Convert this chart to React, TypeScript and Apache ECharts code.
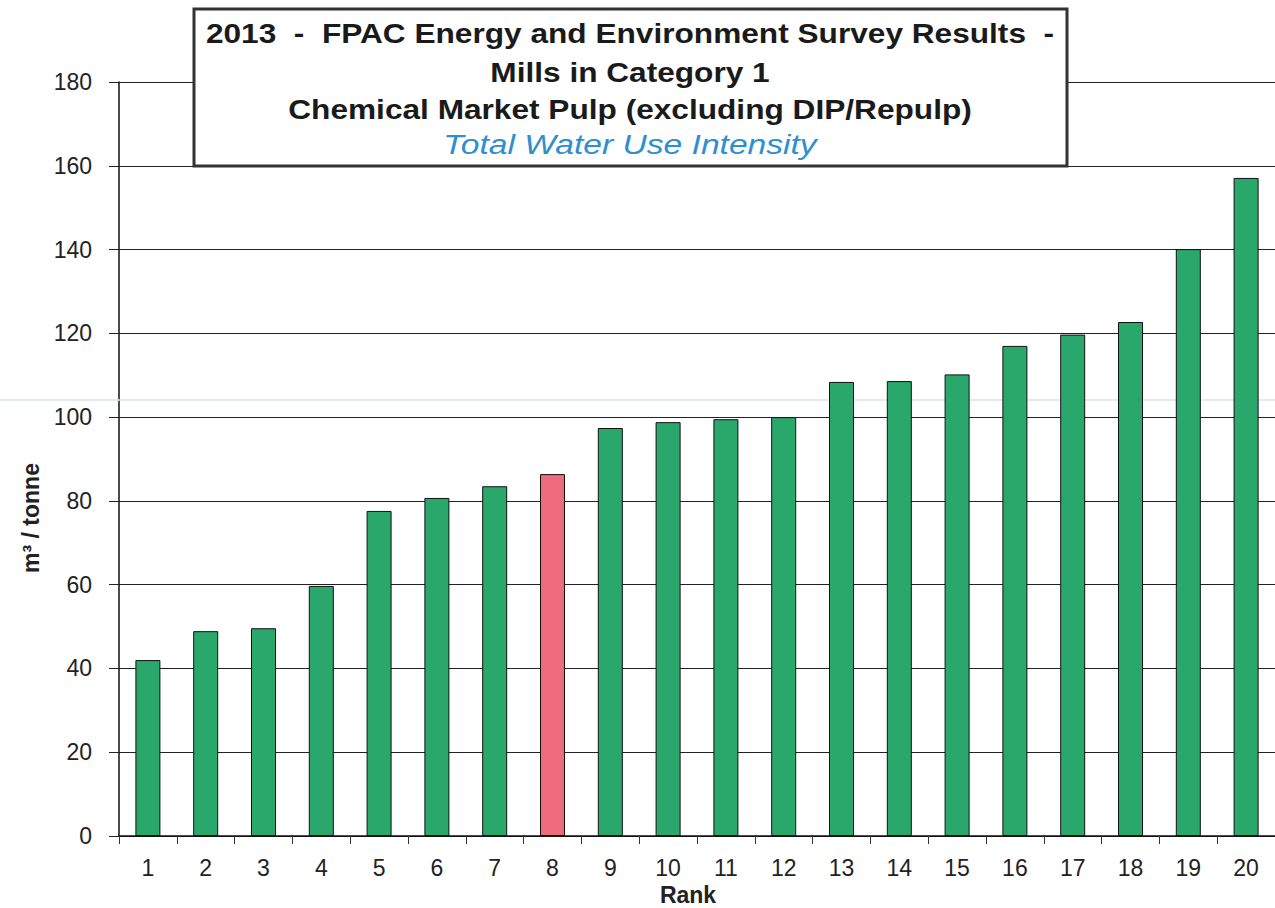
import React, { useEffect, useRef } from "react";
import * as echarts from "echarts";

const ranks = ["1","2","3","4","5","6","7","8","9","10","11","12","13","14","15","16","17","18","19","20"];
const waterUse = [42.0, 48.9, 49.6, 59.7, 77.6, 80.7, 83.5, 86.4, 97.4, 98.8, 99.5, 100.0, 108.4, 108.6, 110.2, 117.0, 119.7, 122.7, 140.1, 157.1];
const highlightRank = "8";
const yTicks = { min: 0, max: 180, interval: 20 };
const titleLines = [
  "2013  -  FPAC Energy and Environment Survey Results  -",
  "Mills in Category 1",
  "Chemical Market Pulp (excluding DIP/Repulp)",
];
const subtitle = "Total Water Use Intensity";
const yAxisName = "m³ / tonne";
const xAxisName = "Rank";

const GREEN = "#2aa86c";
const PINK = "#ee6b7d";

export default function App() {
  const ref = useRef<HTMLDivElement>(null);
  useEffect(() => {
    const chart = echarts.init(ref.current!, null, { renderer: "svg" });
    const font = "Arial, 'Liberation Sans', Helvetica, sans-serif";
    chart.setOption({
      animation: false,
      backgroundColor: "#ffffff",
      textStyle: { fontFamily: font },
      grid: { left: 119, top: 82, width: 1158, height: 754, containLabel: false },
      xAxis: {
        type: "category",
        data: ranks,
        axisLine: { lineStyle: { color: "#111", width: 1.5 } },
        axisTick: { show: true, alignWithLabel: false, length: 8, lineStyle: { color: "#333" } },
        axisLabel: { fontSize: 23, color: "#222", margin: 20, fontFamily: font },
        splitLine: { show: false },
      },
      yAxis: {
        type: "value",
        min: yTicks.min,
        max: yTicks.max,
        interval: yTicks.interval,
        axisLine: { show: true, lineStyle: { color: "#111", width: 1.5 } },
        axisTick: { show: true, length: 10, inside: false, lineStyle: { color: "#222" } },
        axisLabel: { fontSize: 23, color: "#222", margin: 27, fontFamily: font },
        splitLine: { show: true, lineStyle: { color: "#222", width: 1 } },
      },
      series: [
        {
          type: "bar",
          data: waterUse.map((v, i) => ({
            value: v,
            itemStyle: { color: ranks[i] === highlightRank ? PINK : GREEN },
          })),
          barWidth: 25,
          itemStyle: { borderColor: "#111", borderWidth: 1 },
        },
      ],
      graphic: [
        {
          type: "line",
          shape: { x1: 0, y1: 400, x2: 1275, y2: 400 },
          style: { stroke: "#d6e6f2", lineWidth: 1.5 },
          z: 1,
        },
        {
          type: "rect",
          shape: { x: 194, y: 9, width: 873, height: 157 },
          style: { fill: "#ffffff", stroke: "#333", lineWidth: 3 },
          z: 10,
        },
        ...titleLines.map((t, i) => ({
          type: "text",
          x: 630,
          y: [33, 72, 109][i],
          scaleX: 1.13,
          style: {
            text: t,
            fontSize: 28,
            fontWeight: "bold",
            fill: "#1a1a1a",
            fontFamily: font,
            align: "center",
            verticalAlign: "middle",
          },
          z: 11,
        })),
        {
          type: "text",
          x: 630,
          y: 144,
          scaleX: 1.2,
          style: {
            text: subtitle,
            fontSize: 28,
            fontStyle: "italic",
            fill: "#2e8fd0",
            fontFamily: font,
            align: "center",
            verticalAlign: "middle",
          },
          z: 11,
        },
        {
          type: "text",
          x: 688,
          y: 895,
          style: {
            text: xAxisName,
            fontSize: 23,
            fontWeight: "bold",
            fill: "#222",
            fontFamily: font,
            align: "center",
            verticalAlign: "middle",
          },
          z: 11,
        },
        {
          type: "text",
          x: 31,
          y: 518,
          rotation: Math.PI / 2,
          style: {
            text: yAxisName,
            fontSize: 23,
            fontWeight: "bold",
            fill: "#222",
            fontFamily: font,
            align: "center",
            verticalAlign: "middle",
          },
          z: 11,
        },
      ],
    });
    return () => chart.dispose();
  }, []);
  return (
    <div
      ref={ref}
      style={{ position: "absolute", left: 0, top: 0, width: 1275, height: 908 }}
    />
  );
}
